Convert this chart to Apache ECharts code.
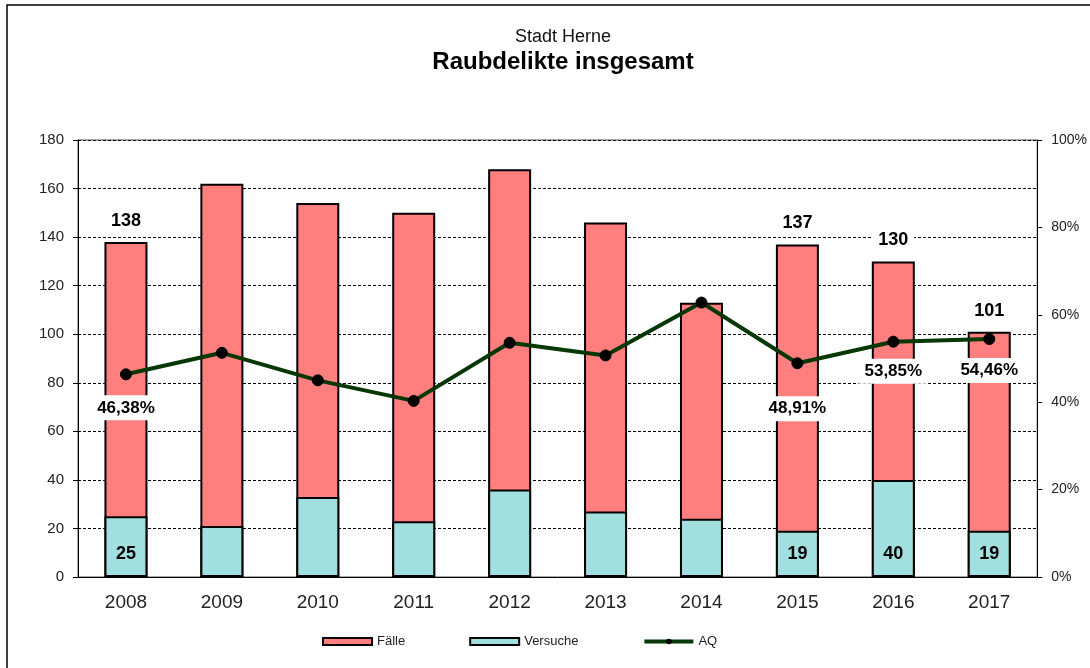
<!DOCTYPE html>
<html>
<head>
<meta charset="utf-8">
<script src="https://cdn.jsdelivr.net/npm/echarts@6/dist/echarts.min.js"></script>
<style>
  html, body { margin: 0; padding: 0; background: #fff; }
  #main { width: 1090px; height: 668px; }
</style>
</head>
<body>
<div id="main"></div>
<script>
// Daten
var jahre = ['2008', '2009', '2010', '2011', '2012', '2013', '2014', '2015', '2016', '2017'];
var faelle = [138, 162, 154, 150, 168, 146, 113, 137, 130, 101];
var versuche = [25, 21, 33, 23, 36, 27, 24, 19, 40, 19];
var aq = [46.38, 51.3, 45.0, 40.3, 53.6, 50.7, 62.8, 48.91, 53.85, 54.46];
var mitLabel = [0, 7, 8, 9]; // Jahre mit Beschriftung
var aqAbstand = {0: 15, 7: 27, 8: 11, 9: 13}; // Abstand der AQ-Beschriftung

function istLabel(i) {
	return mitLabel.indexOf(i) >= 0;
}

var faelleDaten = [];
var versucheDaten = [];
var aqDaten = [];
for (var i = 0; i < jahre.length; i++) {
	faelleDaten.push({ value: faelle[i], label: { show: istLabel(i) } });
	versucheDaten.push({ value: versuche[i], label: { show: istLabel(i) } });
	aqDaten.push({ value: aq[i], label: { show: istLabel(i), distance: aqAbstand[i] || 12 } });
}

var schrift = 'Liberation Sans, Arial, sans-serif';
var chart = echarts.init(document.getElementById('main'));

var option = {
	animation: false,
	textStyle: { fontFamily: schrift },
	title: [{
		text: 'Stadt Herne',
		left: 558,
		textAlign: 'center',
		top: 23,
		textStyle: { fontSize: 18, fontWeight: 'normal', color: '#111', fontFamily: schrift }
	}, {
		text: 'Raubdelikte insgesamt',
		left: 558,
		textAlign: 'center',
		top: 45,
		textStyle: { fontSize: 24, fontWeight: 'bold', color: '#000', fontFamily: schrift }
	}],
	graphic: [{
		type: 'polyline',
		shape: { points: [[7, 668], [7, 5], [1090, 5]] },
		style: { stroke: '#000', lineWidth: 1.5, fill: null }
	}],
	legend: {
		left: 322,
		top: 635,
		padding: 0,
		itemWidth: 49,
		itemHeight: 7,
		itemGap: 64,
		textStyle: { fontSize: 13, color: '#222' },
		data: [
			{ name: 'Fälle', icon: 'rect' },
			{ name: 'Versuche', icon: 'rect' },
			{ name: 'AQ', lineStyle: { width: 4, color: '#063806' } }
		]
	},
	grid: {
		left: 78,
		right: 52,
		top: 140,
		bottom: 91,
		show: true,
		borderColor: '#555',
		borderWidth: 1
	},
	xAxis: {
		type: 'category',
		data: jahre,
		axisLine: { lineStyle: { color: '#000', width: 1 } },
		axisTick: { length: 7, lineStyle: { color: '#000' } },
		axisLabel: { fontSize: 19, color: '#222', margin: 16 }
	},
	yAxis: [{
		type: 'value',
		min: 0,
		max: 180,
		interval: 20,
		axisLine: { show: true, lineStyle: { color: '#000', width: 1 } },
		axisTick: { show: true, length: 5, lineStyle: { color: '#000' } },
		axisLabel: { fontSize: 15, color: '#222', margin: 14 },
		splitLine: { lineStyle: { color: '#000', width: 1, type: [3, 2] } }
	}, {
		type: 'value',
		min: 0,
		max: 100,
		interval: 20,
		position: 'right',
		axisLine: { show: true, lineStyle: { color: '#000', width: 1 } },
		axisTick: { show: true, length: 5, lineStyle: { color: '#000' } },
		axisLabel: { fontSize: 14, color: '#222', margin: 14, formatter: '{value}%' },
		splitLine: { show: false }
	}],
	series: [{
		name: 'Fälle',
		type: 'bar',
		barWidth: 43,
		barGap: '-100%',
		itemStyle: { color: '#ff7f7f', borderColor: '#000', borderWidth: 2 },
		label: {
			position: 'top',
			distance: 10,
			fontSize: 18,
			fontWeight: 'bold',
			color: '#000',
			backgroundColor: '#fff',
			padding: [2, 6]
		},
		data: faelleDaten
	}, {
		name: 'Versuche',
		type: 'bar',
		barWidth: 43,
		barGap: '-100%',
		itemStyle: { color: '#a2dfdf', borderColor: '#000', borderWidth: 2 },
		label: {
			position: 'insideBottom',
			distance: 14,
			fontSize: 18,
			fontWeight: 'bold',
			color: '#000'
		},
		data: versucheDaten
	}, {
		name: 'AQ',
		type: 'line',
		yAxisIndex: 1,
		symbol: 'circle',
		symbolSize: 11,
		z: 5,
		lineStyle: { color: '#063806', width: 4 },
		itemStyle: { color: '#000', borderColor: '#000' },
		label: {
			position: 'bottom',
			fontSize: 17,
			fontWeight: 'bold',
			color: '#000',
			backgroundColor: '#fff',
			padding: [4, 6],
			formatter: function (p) {
				return p.value.toFixed(2).replace('.', ',') + '%';
			}
		},
		data: aqDaten
	}]
};

chart.setOption(option);
</script>
</body>
</html>
